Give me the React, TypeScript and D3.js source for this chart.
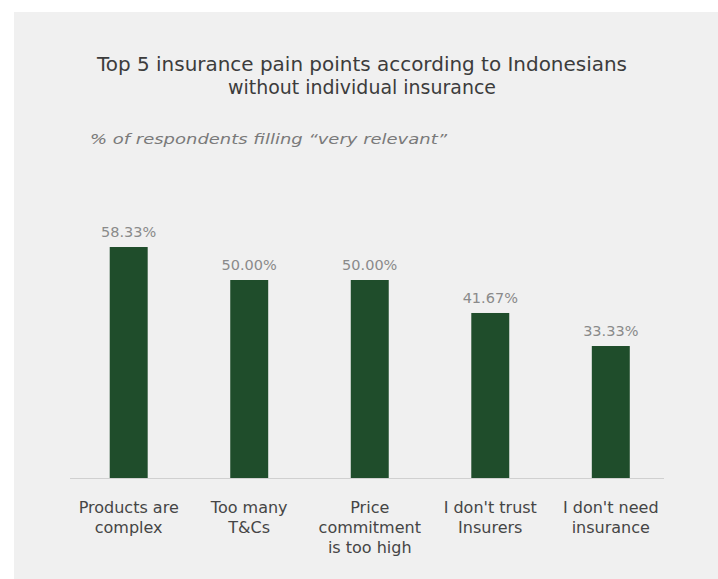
import React, { useEffect } from "react";
import * as d3 from "d3";

const categories: string[][] = [
  ["Products are", "complex"],
  ["Too many", "T&Cs"],
  ["Price", "commitment", "is too high"],
  ["I don't trust", "Insurers"],
  ["I don't need", "insurance"],
];
const values: number[] = [58.33, 50.0, 50.0, 41.67, 33.33];
const valueLabels: string[] = ["58.33%", "50.00%", "50.00%", "41.67%", "33.33%"];
const titleLines: string[] = [
  "Top 5 insurance pain points according to Indonesians",
  "without individual insurance",
];
const subtitle = "% of respondents filling \u201cvery relevant\u201d";

export default function App() {
  useEffect(() => {
    document.body.style.margin = "0";
    document.body.style.overflow = "hidden";
  }, []);
  const W = 740;
  const H = 600;
  const x = d3
    .scaleBand<number>()
    .domain(d3.range(categories.length))
    .range([68.5, 671])
    .paddingInner(0.685)
    .paddingOuter(0.342);
  const y = d3.scaleLinear().domain([0, 60]).range([478, 240.4]);
  const font = "'DejaVu Sans', Verdana, sans-serif";

  return (
    <svg
      width={W}
      height={H}
      style={{ position: "absolute", left: 0, top: 0, display: "block" }}
    >
      <rect x={0} y={0} width={W} height={H} fill="#ffffff" />
      <rect x={14} y={12} width={W - 14} height={H - 12} fill="#f0f0f0" />
      {titleLines.map((t, i) => (
        <text
          key={i}
          x={362}
          y={71 + i * 23}
          textAnchor="middle"
          fontFamily={font}
          fontSize={19.5}
          fill="#3c3c3c"
          textLength={i === 0 ? 530 : 268}
          lengthAdjust="spacingAndGlyphs"
        >
          {t}
        </text>
      ))}
      <text
        x={90}
        y={144}
        fontFamily={font}
        fontStyle="italic"
        fontSize={14}
        fill="#7a7a7a"
        textLength={357}
        lengthAdjust="spacingAndGlyphs"
      >
        {subtitle}
      </text>
      <line x1={70} x2={664} y1={478.5} y2={478.5} stroke="#d0d0d0" strokeWidth={1} />
      {values.map((v, i) => (
        <g key={i}>
          <rect
            x={x(i)}
            y={y(v)}
            width={x.bandwidth()}
            height={y(0) - y(v)}
            fill="#1f4d2b"
          />
          <text
            x={(x(i) as number) + x.bandwidth() / 2}
            y={y(v) - 10}
            textAnchor="middle"
            fontFamily={font}
            fontSize={14.5}
            fill="#8a8a8a"
          >
            {valueLabels[i]}
          </text>
          {categories[i].map((line, j) => (
            <text
              key={j}
              x={(x(i) as number) + x.bandwidth() / 2}
              y={513 + j * 20}
              textAnchor="middle"
              fontFamily={font}
              fontSize={16}
              fill="#454545"
            >
              {line}
            </text>
          ))}
        </g>
      ))}
    </svg>
  );
}
